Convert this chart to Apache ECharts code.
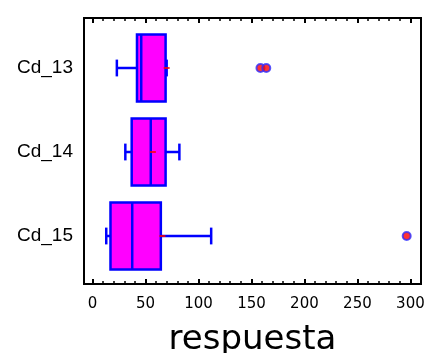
<!DOCTYPE html>
<html>
<head>
<meta charset="utf-8">
<script src="https://cdn.jsdelivr.net/npm/echarts@6/dist/echarts.min.js"></script>
<style>
  html, body { margin: 0; padding: 0; background: #fff; }
  #main { width: 429px; height: 353px; }
</style>
</head>
<body>
<div id="main"></div>
<script>
// datos del grafico de cajas
const categorias = ['Cd_13', 'Cd_14', 'Cd_15'];
const minimos = [23, 31, 13];
const cuartil1 = [42, 37, 17];
const medianas = [46, 55, 37.5];
const cuartil3 = [69, 69, 64.5];
const maximos = [70, 82, 112];
const medias = [70, 57, 66];
const atipicosX = [158.5, 164, 296.5];
const atipicosCat = ['Cd_13', 'Cd_13', 'Cd_15'];
const ticksMayores = [0, 50, 100, 150, 200, 250, 300];
const ticksMenores = [0, 10, 20, 30, 40, 50, 60, 70, 80, 90, 100, 110, 120, 130, 140, 150,
  160, 170, 180, 190, 200, 210, 220, 230, 240, 250, 260, 270, 280, 290, 300];

const xMin = -8, xMax = 310;
const azul = '#0000ff';

const chart = echarts.init(document.getElementById('main'), null, { renderer: 'canvas' });

// filas para la serie custom
let cajas = [];
for (let i = 0; i < categorias.length; i++) {
  cajas.push([i, minimos[i], cuartil1[i], medianas[i], cuartil3[i], maximos[i]]);
}
let puntosAtipicos = [];
for (let i = 0; i < atipicosX.length; i++) {
  puntosAtipicos.push([atipicosX[i], atipicosCat[i]]);
}
let puntosMedias = [];
for (let i = 0; i < medias.length; i++) {
  puntosMedias.push([medias[i], categorias[i]]);
}

function dibujarCaja(params, api) {
  const cat = api.value(0);
  const pLo = api.coord([api.value(1), cat]);
  const pQ1 = api.coord([api.value(2), cat]);
  const pMed = api.coord([api.value(3), cat]);
  const pQ3 = api.coord([api.value(4), cat]);
  const pHi = api.coord([api.value(5), cat]);
  const banda = api.size([0, 1])[1];
  const h = banda * 0.8;
  const tapa = banda * 0.1;
  const y = pMed[1];
  const linea = { stroke: azul, lineWidth: 2.5 };
  return {
    type: 'group',
    children: [
      { type: 'line', shape: { x1: pLo[0], y1: y, x2: pQ1[0], y2: y }, style: linea },
      { type: 'line', shape: { x1: pQ3[0], y1: y, x2: pHi[0], y2: y }, style: linea },
      { type: 'line', shape: { x1: pLo[0], y1: y - tapa, x2: pLo[0], y2: y + tapa }, style: linea },
      { type: 'line', shape: { x1: pHi[0], y1: y - tapa, x2: pHi[0], y2: y + tapa }, style: linea },
      { type: 'rect', shape: { x: pQ1[0], y: y - h / 2, width: pQ3[0] - pQ1[0], height: h },
        style: { fill: '#ff00ff', stroke: azul, lineWidth: 2.5 } },
      { type: 'line', shape: { x1: pMed[0], y1: y - h / 2, x2: pMed[0], y2: y + h / 2 }, style: linea }
    ]
  };
}

function ejeX(extra) {
  return Object.assign({
    type: 'value', min: xMin, max: xMax,
    axisLine: { show: true, onZero: false, lineStyle: { color: '#000', width: 2 } },
    splitLine: { show: false },
    axisLabel: { show: false },
    axisTick: { show: false }
  }, extra);
}

function ejeY(extra) {
  return Object.assign({
    type: 'value', min: 0, max: 1,
    axisLine: { show: true, onZero: false, lineStyle: { color: '#000', width: 2 } },
    axisTick: { show: false }, axisLabel: { show: false }, splitLine: { show: false }
  }, extra);
}

const option = {
  animation: false,
  backgroundColor: '#fff',
  grid: [
    { left: 84, right: 8, top: 18, bottom: 69, outerBoundsMode: 'none', containLabel: false },
    { left: 84, right: 8, top: 26, bottom: 75, outerBoundsMode: 'none', containLabel: false },
    { left: 84, right: 8, top: 18, bottom: 69, outerBoundsMode: 'none', containLabel: false }
  ],
  xAxis: [
    ejeX({
      gridIndex: 0, position: 'bottom',
      axisTick: { show: true, inside: true, length: 5, customValues: ticksMayores, lineStyle: { color: '#000', width: 2 } },
      axisLabel: { show: true, customValues: ticksMayores, margin: 13, color: '#000', fontSize: 15, fontFamily: 'DejaVu Sans' },
      name: 'respuesta', nameLocation: 'middle', nameGap: 39,
      nameTextStyle: { color: '#000', fontSize: 34, fontFamily: 'DejaVu Sans' }
    }),
    ejeX({
      gridIndex: 0, position: 'top',
      axisTick: { show: true, inside: true, length: 5, customValues: ticksMayores, lineStyle: { color: '#000', width: 2 } }
    }),
    ejeX({
      gridIndex: 2, position: 'bottom',
      axisTick: { show: true, inside: true, length: 3, customValues: ticksMenores, lineStyle: { color: '#000', width: 1.5 } }
    }),
    ejeX({
      gridIndex: 2, position: 'top',
      axisTick: { show: true, inside: true, length: 3, customValues: ticksMenores, lineStyle: { color: '#000', width: 1.5 } }
    }),
    { type: 'value', gridIndex: 1, min: xMin, max: xMax, show: false }
  ],
  yAxis: [
    ejeY({ gridIndex: 0, position: 'left' }),
    ejeY({ gridIndex: 0, position: 'right' }),
    ejeY({ gridIndex: 2, show: false }),
    { type: 'category', gridIndex: 1, data: categorias, inverse: true,
      axisLine: { show: false }, axisTick: { show: false }, splitLine: { show: false },
      axisLabel: { margin: 11, color: '#000', fontSize: 19, fontFamily: 'Liberation Sans' } }
  ],
  series: [
    {
      type: 'custom', xAxisIndex: 4, yAxisIndex: 3,
      renderItem: dibujarCaja,
      encode: { x: [1, 2, 3, 4, 5], y: 0 },
      data: cajas
    },
    {
      type: 'scatter', xAxisIndex: 4, yAxisIndex: 3,
      symbol: 'circle', symbolSize: 8,
      itemStyle: { color: '#ff0000', borderColor: '#3030ff', borderWidth: 2 },
      data: puntosAtipicos
    },
    {
      type: 'scatter', xAxisIndex: 4, yAxisIndex: 3,
      symbol: 'rect', symbolSize: [6, 2],
      itemStyle: { color: '#ff0000' },
      data: puntosMedias
    }
  ]
};

chart.setOption(option);
</script>
</body>
</html>
